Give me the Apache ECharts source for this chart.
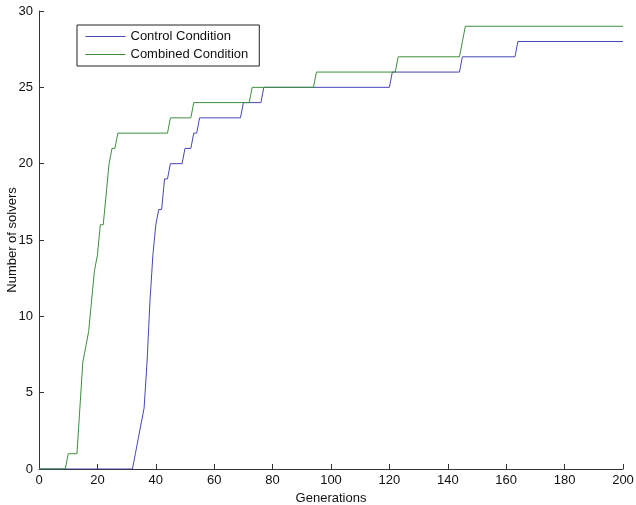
<!DOCTYPE html>
<html>
<head>
<meta charset="utf-8">
<script src="https://cdn.jsdelivr.net/npm/echarts@6/dist/echarts.min.js"></script>
<style>html,body{margin:0;padding:0;background:#fff;}#c{width:636px;height:505px;}</style>
</head>
<body>
<div id="c"></div>
<script>
var seriesNames = ['Control Condition', 'Combined Condition'];
var controlGen     = [0, 32, 33, 34, 35, 36, 37, 38, 39, 40, 41, 42, 43, 44, 45, 49, 50, 52, 53, 54, 55, 69, 70, 76, 77, 120, 121, 144, 145, 163, 164, 200];
var controlSolvers = [0,  0,  1,  2,  3,  4,  7, 11, 14, 16, 17, 17, 19, 19, 20, 20, 21, 21, 22, 22, 23, 23, 24, 24, 25,  25,  26,  26,  27,  27,  28,  28];
var combinedGen     = [0, 9, 10, 13, 14, 15, 16, 17, 18, 19, 20, 21, 22, 23, 24, 25, 26, 27, 44, 45, 52, 53, 72, 73, 94, 95, 122, 123, 144, 145, 146, 200];
var combinedSolvers = [0, 0,  1,  1,  4,  7,  8,  9, 11, 13, 14, 16, 16, 18, 20, 21, 21, 22, 22, 23, 23, 24, 24, 25, 25, 26,  26,  27,  27,  28,  29,  29];
var xTicks = [0, 20, 40, 60, 80, 100, 120, 140, 160, 180, 200];
var yTicks = [0, 5, 10, 15, 20, 25, 30];

function pairs(xs, ys) { return xs.map(function (x, i) { return [x, ys[i]]; }); }

var font = 'Liberation Sans, Arial, sans-serif';
var chart = echarts.init(document.getElementById('c'), null, { renderer: 'canvas' });
chart.setOption({
  animation: false,
  backgroundColor: '#ffffff',
  grid: { left: 39, right: 13, top: 11, bottom: 36, containLabel: false, outerBoundsMode: 'none' },
  legend: {
    orient: 'vertical', left: 77, top: 25,
    data: seriesNames,
    itemWidth: 40, itemHeight: 13, itemGap: 5,
    padding: [5, 11, 5, 8],
    borderColor: '#222', borderWidth: 1, backgroundColor: '#fff',
    itemStyle: { opacity: 0, borderWidth: 0 },
    lineStyle: { width: 1 },
    textStyle: { fontFamily: font, fontSize: 13, color: '#111' }
  },
  xAxis: {
    type: 'value', min: xTicks[0], max: xTicks[xTicks.length - 1], interval: 20,
    name: 'Generations', nameLocation: 'middle', nameGap: 23, nameMoveOverlap: false,
    nameTextStyle: { fontFamily: font, fontSize: 13, color: '#111' },
    axisLine: { show: true, lineStyle: { color: '#333', width: 1 } },
    axisTick: { show: true, inside: true, length: 5, lineStyle: { color: '#333' } },
    axisLabel: { fontFamily: font, fontSize: 13, color: '#111', margin: 5 },
    splitLine: { show: false }
  },
  yAxis: {
    type: 'value', min: yTicks[0], max: yTicks[yTicks.length - 1], interval: 5,
    name: 'Number of solvers', nameLocation: 'middle', nameGap: 20, nameMoveOverlap: false,
    nameTextStyle: { fontFamily: font, fontSize: 13, color: '#111' },
    axisLine: { show: true, lineStyle: { color: '#333', width: 1 } },
    axisTick: { show: true, inside: true, length: 5, lineStyle: { color: '#333' } },
    axisLabel: { fontFamily: font, fontSize: 13, color: '#111', margin: 6 },
    splitLine: { show: false }
  },
  series: [
    { name: seriesNames[0], type: 'line', data: pairs(controlGen, controlSolvers),
      symbol: 'none', color: '#4646b4', lineStyle: { width: 1, color: '#4646b4' }, z: 2 },
    { name: seriesNames[1], type: 'line', data: pairs(combinedGen, combinedSolvers),
      symbol: 'none', color: '#3d8f3d', lineStyle: { width: 1, color: '#3d8f3d' }, z: 3 }
  ]
});
</script>
</body>
</html>
